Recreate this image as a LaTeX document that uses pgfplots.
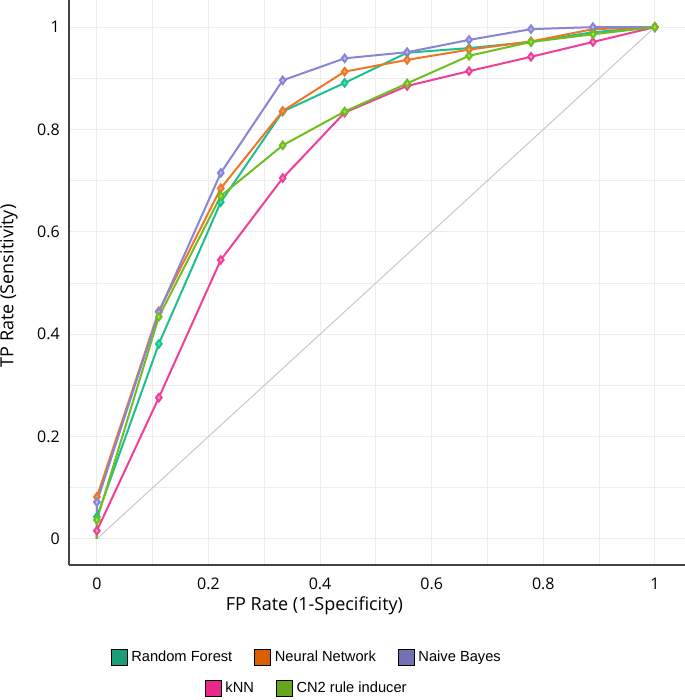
\documentclass[border=0pt]{standalone}
\usepackage{fontspec}
\setmainfont{Open Sans}
\newfontfamily\legfont{Liberation Sans}
\usepackage{pgfplots}
\pgfplotsset{compat=1.18}

% line colours and lighter marker colours
\definecolor{rfline}{HTML}{1DBF92}
\definecolor{rfmark}{HTML}{3EF0B0}
\definecolor{nnline}{HTML}{EE7624}
\definecolor{nnmark}{HTML}{F7A262}
\definecolor{nbline}{HTML}{8884D6}
\definecolor{nbmark}{HTML}{BCB8F8}
\definecolor{knline}{HTML}{EF3F97}
\definecolor{knmark}{HTML}{F9A2CC}
\definecolor{cnline}{HTML}{70BD22}
\definecolor{cnmark}{HTML}{8FF043}
% legend swatches
\definecolor{rfleg}{HTML}{1B9E77}
\definecolor{nnleg}{HTML}{D95F02}
\definecolor{nbleg}{HTML}{7570B3}
\definecolor{knleg}{HTML}{E7298A}
\definecolor{cnleg}{HTML}{66A61E}
\definecolor{gridc}{HTML}{ECECEC}
\definecolor{diagc}{HTML}{C8C8C8}
\definecolor{axisc}{HTML}{444444}

\pgfplotsset{
  roc/.style n args={2}{color=#1, line width=1.5pt, mark=diamond*, mark size=2.8pt,
    mark indices={2,3,...,11}, mark options={fill=#2, draw=none}},
  frame/.style={scale only axis, width=462pt, height=423.75pt,
    at={(51.75pt,101.25pt)}, anchor=south west},
  legrow/.style={frame, hide axis, xmin=0, xmax=1, ymin=0, ymax=1,
    legend columns=3,
    legend image code/.code={\fill[##1] (-1.5pt,-5.8pt) rectangle (10.5pt,5.8pt);},
    legend style={at={(axis description cs:0.386,#1)}, anchor=center,
      draw=none, fill=none, font=\legfont\fontsize{11}{13}\selectfont,
      nodes={inner sep=1.5pt},
      /tikz/every odd column/.append style={column sep=1.5pt},
      /tikz/every even column/.append style={column sep=15pt}}},
}

\begin{document}
\begin{tikzpicture}
\path[use as bounding box] (0pt,0pt) rectangle (513.75pt,525pt);
\begin{axis}[frame,
  xmin=-0.05, xmax=1.054, ymin=-0.051, ymax=1.053,
  axis x line=bottom, axis y line=left,
  axis line style={-, line width=1.1pt, draw=axisc},
  xtick={0,0.2,...,1}, ytick={0,0.2,...,1},
  minor xtick={0.1,0.3,0.5,0.7,0.9}, minor ytick={0.1,0.3,0.5,0.7,0.9},
  grid=both, major grid style={gridc, line width=0.75pt},
  minor grid style={gridc, line width=0.75pt},
  major tick length=0pt, minor tick length=0pt,
  /pgf/number format/assume math mode=true,
  tick label style={font=\fontsize{12}{14}\selectfont},
  xticklabel style={inner sep=0pt, anchor=north, yshift=-9.75pt},
  yticklabel style={inner sep=0pt, anchor=east, xshift=-6.75pt},
  xlabel={FP Rate (1-Specificity)},
  ylabel={TP Rate (Sensitivity)},
  label style={font=\fontsize{13.5}{16}\selectfont},
  xlabel style={at={(axis description cs:0.3985,-0.0726)}, anchor=center},
  ylabel style={at={(axis description cs:-0.0974,0.494)}, anchor=center},
]
\addplot[color=diagc, line width=0.75pt] coordinates {(0,0) (1,1)};

% Random Forest
\addplot[roc={rfline}{rfmark}] coordinates {
  (0,0) (0,0.043) (0.111,0.381) (0.222,0.658) (0.333,0.835) (0.444,0.891)
  (0.556,0.950) (0.667,0.959) (0.778,0.971) (0.889,0.990) (1,1)};
% Neural Network
\addplot[roc={nnline}{nnmark}] coordinates {
  (0,0) (0,0.082) (0.111,0.445) (0.222,0.685) (0.333,0.836) (0.444,0.913)
  (0.556,0.936) (0.667,0.956) (0.778,0.972) (0.889,0.996) (1,1)};
% Naive Bayes
\addplot[roc={nbline}{nbmark}] coordinates {
  (0,0) (0,0.072) (0.111,0.443) (0.222,0.715) (0.333,0.896) (0.444,0.939)
  (0.556,0.951) (0.667,0.975) (0.778,0.996) (0.889,1.000) (1,1)};
% kNN
\addplot[roc={knline}{knmark}] coordinates {
  (0,0) (0,0.016) (0.111,0.276) (0.222,0.545) (0.333,0.705) (0.444,0.833)
  (0.556,0.885) (0.667,0.914) (0.778,0.942) (0.889,0.971) (1,1)};
% CN2 rule inducer
\addplot[roc={cnline}{cnmark}] coordinates {
  (0,0) (0,0.037) (0.111,0.434) (0.222,0.670) (0.333,0.769) (0.444,0.835)
  (0.556,0.890) (0.667,0.944) (0.778,0.971) (0.889,0.986) (1,1)};
\end{axis}

\begin{axis}[legrow=-0.163]
\addlegendimage{fill=rfleg}\addlegendentry{Random Forest}
\addlegendimage{fill=nnleg}\addlegendentry{Neural Network}
\addlegendimage{fill=nbleg}\addlegendentry{Naive Bayes}
\end{axis}
\begin{axis}[legrow=-0.218]
\addlegendimage{fill=knleg}\addlegendentry{kNN}
\addlegendimage{fill=cnleg}\addlegendentry{CN2 rule inducer}
\end{axis}
\end{tikzpicture}
\end{document}
